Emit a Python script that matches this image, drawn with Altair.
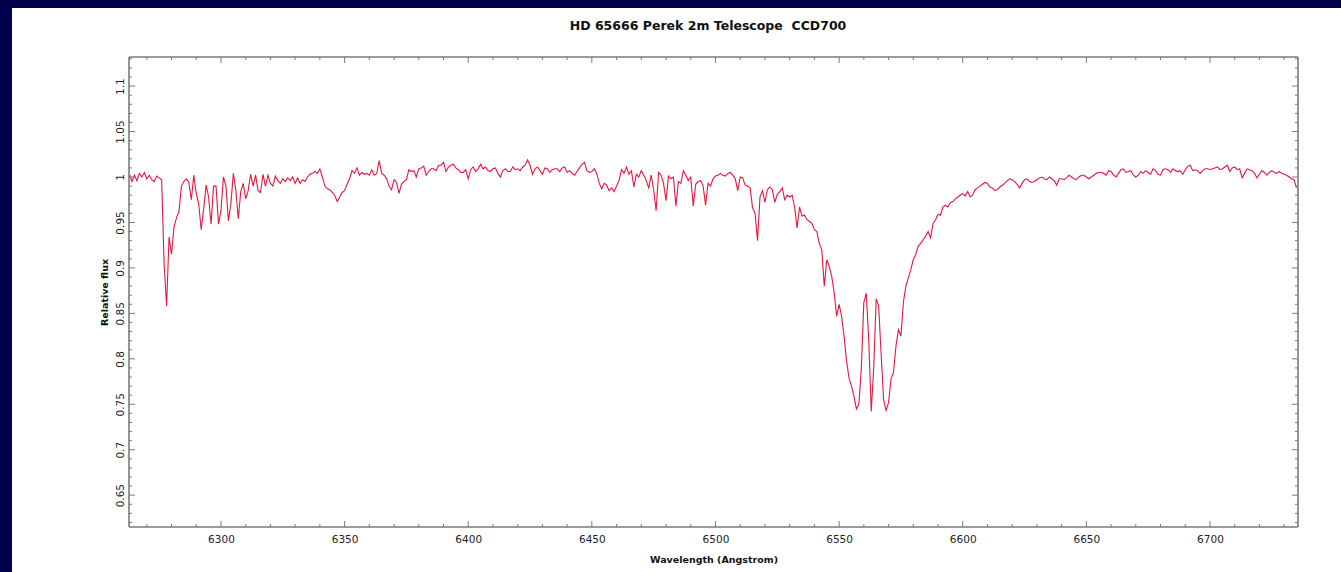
import altair as alt
import pandas as pd

# ---- spectrum: relative flux sampled every 1 Angstrom from 6263 A ----
WAVE_START = 6263
WAVE_STEP = 1
FLUX = [
    1.003, 0.995, 1.002, 0.996, 1.004, 1.000, 1.005, 0.998, 1.002, 0.997,  # 6263
    0.995, 1.001, 0.999, 0.997, 0.905, 0.858, 0.934, 0.915, 0.945, 0.955,  # 6273
    0.962, 0.990, 0.995, 0.998, 0.994, 0.975, 1.002, 0.982, 0.970, 0.942,  # 6283
    0.965, 0.991, 0.978, 0.948, 0.990, 0.990, 0.948, 0.963, 1.000, 0.990,  # 6293
    0.952, 0.970, 1.004, 0.986, 0.954, 0.984, 0.993, 0.976, 0.985, 1.003,  # 6303
    0.990, 1.002, 0.985, 0.983, 1.003, 0.990, 1.002, 0.993, 0.990, 1.001,  # 6313
    0.996, 0.993, 0.998, 0.995, 0.999, 0.996, 1.000, 0.993, 0.999, 0.993,  # 6323
    0.997, 0.995, 1.000, 1.003, 1.004, 1.006, 1.004, 1.009, 1.000, 0.990,  # 6333
    0.987, 0.986, 0.983, 0.980, 0.973, 0.978, 0.983, 0.985, 0.992, 0.998,  # 6343
    1.007, 1.004, 1.010, 1.002, 1.005, 1.003, 1.004, 1.002, 1.008, 1.002,  # 6353
    1.004, 1.018, 1.004, 1.002, 0.998, 0.990, 0.986, 0.997, 0.994, 0.982,  # 6363
    0.992, 0.995, 0.997, 1.008, 1.006, 1.007, 1.000, 1.009, 1.010, 1.012,  # 6373
    1.002, 1.006, 1.009, 1.009, 1.007, 1.013, 1.013, 1.016, 1.006, 1.011,  # 6383
    1.013, 1.014, 1.010, 1.008, 1.005, 1.005, 1.008, 0.998, 1.008, 1.011,  # 6393
    1.006, 1.009, 1.014, 1.009, 1.011, 1.007, 1.006, 1.009, 1.010, 1.004,  # 6403
    1.000, 1.007, 1.009, 1.006, 1.006, 1.011, 1.008, 1.009, 1.007, 1.011,  # 6413
    1.013, 1.019, 1.013, 1.003, 1.009, 1.011, 1.007, 1.003, 1.010, 1.009,  # 6423
    1.005, 1.008, 1.009, 1.009, 1.006, 1.010, 1.011, 1.005, 1.007, 1.004,  # 6433
    1.002, 1.006, 1.010, 1.014, 1.016, 1.007, 1.005, 1.006, 1.009, 1.004,  # 6443
    0.993, 0.987, 0.993, 0.991, 0.985, 0.988, 0.984, 0.990, 0.996, 1.008,  # 6453
    1.004, 1.011, 1.003, 1.007, 0.989, 1.003, 1.000, 1.007, 1.002, 0.996,  # 6463
    0.988, 1.002, 0.986, 0.963, 1.005, 1.002, 0.993, 0.974, 1.001, 0.998,  # 6473
    1.000, 0.968, 0.995, 0.993, 1.007, 1.002, 0.996, 1.000, 0.968, 0.992,  # 6483
    0.995, 0.996, 0.990, 0.969, 0.993, 0.990, 0.998, 1.001, 1.002, 1.004,  # 6493
    1.002, 1.001, 1.004, 1.005, 1.002, 0.998, 0.985, 1.000, 0.999, 0.991,  # 6503
    0.990, 0.988, 0.966, 0.960, 0.930, 0.978, 0.985, 0.972, 0.986, 0.989,  # 6513
    0.986, 0.972, 0.981, 0.984, 0.988, 0.975, 0.980, 0.978, 0.980, 0.967,  # 6523
    0.944, 0.967, 0.957, 0.958, 0.953, 0.951, 0.949, 0.942, 0.940, 0.927,  # 6533
    0.920, 0.880, 0.909, 0.902, 0.891, 0.873, 0.847, 0.860, 0.847, 0.825,  # 6543
    0.798, 0.779, 0.770, 0.759, 0.745, 0.750, 0.790, 0.862, 0.872, 0.820,  # 6553
    0.742, 0.790, 0.866, 0.858, 0.805, 0.755, 0.743, 0.752, 0.778, 0.785,  # 6563
    0.814, 0.832, 0.825, 0.862, 0.880, 0.889, 0.898, 0.909, 0.915, 0.924,  # 6573
    0.927, 0.931, 0.935, 0.940, 0.933, 0.949, 0.953, 0.959, 0.958, 0.967,  # 6583
    0.969, 0.967, 0.972, 0.973, 0.976, 0.978, 0.980, 0.982, 0.979, 0.984,  # 6593
    0.978, 0.980, 0.986, 0.988, 0.990, 0.992, 0.994, 0.993, 0.989, 0.988,  # 6603
    0.985, 0.986, 0.989, 0.991, 0.993, 0.996, 0.998, 0.997, 0.995, 0.992,  # 6613
    0.988, 0.993, 0.997, 0.998, 0.995, 0.994, 0.995, 0.997, 0.999, 1.000,  # 6623
    0.998, 0.997, 1.000, 0.998, 0.996, 0.991, 0.998, 0.998, 0.997, 0.999,  # 6633
    1.002, 1.000, 0.998, 0.997, 1.000, 1.002, 1.002, 1.000, 0.998, 1.000,  # 6643
    1.002, 1.004, 1.005, 1.005, 1.004, 1.002, 1.007, 1.006, 1.002, 1.000,  # 6653
    1.004, 1.008, 1.009, 1.005, 1.006, 1.007, 1.002, 1.000, 1.002, 1.006,  # 6663
    1.004, 1.007, 1.005, 1.003, 1.009, 1.007, 1.003, 1.002, 1.008, 1.009,  # 6673
    1.008, 1.005, 1.009, 1.007, 1.006, 1.007, 1.003, 1.008, 1.012, 1.013,  # 6683
    1.007, 1.008, 1.007, 1.004, 1.007, 1.009, 1.009, 1.008, 1.009, 1.010,  # 6693
    1.011, 1.008, 1.009, 1.011, 1.013, 1.006, 1.010, 1.011, 1.008, 1.009,  # 6703
    0.999, 1.004, 1.009, 1.008, 1.007, 1.004, 0.999, 1.003, 1.007, 1.005,  # 6713
    1.002, 1.005, 1.007, 1.005, 1.004, 1.006, 1.004, 1.003, 1.002, 1.000,  # 6723
    0.998, 0.997, 0.988,                                                   # 6733
]
WAVELENGTH = [WAVE_START + i * WAVE_STEP for i in range(len(FLUX))]

# ---- axis ticks ----
X_MAJOR = [6300, 6350, 6400, 6450, 6500, 6550, 6600, 6650, 6700]
X_MINOR = [6270, 6280, 6290, 6310, 6320, 6330, 6340, 6360, 6370, 6380, 6390,
           6410, 6420, 6430, 6440, 6460, 6470, 6480, 6490, 6510, 6520, 6530,
           6540, 6560, 6570, 6580, 6590, 6610, 6620, 6630, 6640, 6660, 6670,
           6680, 6690, 6710, 6720, 6730]
Y_MAJOR = [0.65, 0.7, 0.75, 0.8, 0.85, 0.9, 0.95, 1.0, 1.05, 1.1]
Y_MINOR = [0.62, 0.63, 0.64, 0.66, 0.67, 0.68, 0.69, 0.71, 0.72, 0.73, 0.74,
           0.76, 0.77, 0.78, 0.79, 0.81, 0.82, 0.83, 0.84, 0.86, 0.87, 0.88,
           0.89, 0.91, 0.92, 0.93, 0.94, 0.96, 0.97, 0.98, 0.99, 1.01, 1.02,
           1.03, 1.04, 1.06, 1.07, 1.08, 1.09, 1.11, 1.12, 1.13]
X_DOMAIN = [6262.8, 6735.6]
Y_DOMAIN = [0.615, 1.132]

# non-breaking space keeps the double gap before the camera name
TITLE = "HD 65666 Perek 2m Telescope \u00a0CCD700"
X_TITLE = "Wavelength (Angstrom)"
Y_TITLE = "Relative flux"

# ---- layout / style ----
PLOT_W, PLOT_H = 1169, 470
PAD_L, PAD_T, PAD_R, PAD_B = 129, 57, 43, 45
FRAME = "#7a7a7a"
LINE = "#e5173f"
NAVY = "#00004c"
FONT = "DejaVu Sans"
MAJOR_LEN, MINOR_LEN = 6, 3

xs = alt.Scale(domain=X_DOMAIN, nice=False, zero=False)
ys = alt.Scale(domain=Y_DOMAIN, nice=False, zero=False)

spec = pd.DataFrame({"wavelength": WAVELENGTH, "flux": FLUX})
one = pd.DataFrame({"k": [0]})

# white page panel behind the plot
panel = alt.Chart(one).mark_rect(color="white").encode(
    x=alt.value(12 - PAD_L), x2=alt.value(1341 - PAD_L),
    y=alt.value(8 - PAD_T), y2=alt.value(572 - PAD_T),
)

# chart heading, centred over the plot
heading = alt.Chart(one).mark_text(
    text=TITLE, font=FONT, fontSize=12.5, fontWeight="bold", color="#111111",
    align="center", baseline="middle",
).encode(x=alt.value(708 - PAD_L), y=alt.value(26 - PAD_T))

spectrum = alt.Chart(spec).mark_line(color=LINE, strokeWidth=1.1).encode(
    x=alt.X("wavelength:Q", scale=xs,
            axis=alt.Axis(values=X_MAJOR, format="d", title=X_TITLE, ticks=False,
                          domain=False, grid=False, labelFont=FONT, labelFontSize=10.5,
                          labelColor="#222222", labelPadding=7, titleFont=FONT,
                          titleFontSize=9.5, titleFontWeight="bold", titleColor="#111111",
                          titlePadding=10, zindex=1)),
    y=alt.Y("flux:Q", scale=ys,
            axis=alt.Axis(values=Y_MAJOR, format=".2~f", title=Y_TITLE, ticks=False,
                          domain=False, grid=False, labelAngle=270, labelAlign="center",
                          labelBaseline="bottom", labelFont=FONT, labelFontSize=10.5,
                          labelColor="#222222", labelPadding=4, titleFont=FONT,
                          titleFontSize=9.5, titleFontWeight="bold", titleColor="#111111",
                          titlePadding=6, zindex=1)),
)


def x_ticks(values, length):
    df = pd.DataFrame({"wavelength": values})
    base = alt.Chart(df).mark_rule(color=FRAME, strokeWidth=1)
    bottom = base.encode(x=alt.X("wavelength:Q", scale=xs),
                         y=alt.value(PLOT_H), y2=alt.value(PLOT_H - length))
    top = base.encode(x=alt.X("wavelength:Q", scale=xs),
                      y=alt.value(0), y2=alt.value(length))
    return [bottom, top]


def y_ticks(values, length):
    df = pd.DataFrame({"flux": values})
    base = alt.Chart(df).mark_rule(color=FRAME, strokeWidth=1)
    left = base.encode(y=alt.Y("flux:Q", scale=ys),
                       x=alt.value(0), x2=alt.value(length))
    right = base.encode(y=alt.Y("flux:Q", scale=ys),
                        x=alt.value(PLOT_W), x2=alt.value(PLOT_W - length))
    return [left, right]


frame_base = alt.Chart(one).mark_rule(color=FRAME, strokeWidth=1.6)
frame = [
    frame_base.encode(x=alt.value(0), x2=alt.value(PLOT_W), y=alt.value(0)),
    frame_base.encode(x=alt.value(0), x2=alt.value(PLOT_W), y=alt.value(PLOT_H)),
    frame_base.encode(x=alt.value(0), y=alt.value(0), y2=alt.value(PLOT_H)),
    frame_base.encode(x=alt.value(PLOT_W), y=alt.value(0), y2=alt.value(PLOT_H)),
]

layers = ([panel, heading, spectrum]
          + x_ticks(X_MAJOR, MAJOR_LEN) + x_ticks(X_MINOR, MINOR_LEN)
          + y_ticks(Y_MAJOR, MAJOR_LEN) + y_ticks(Y_MINOR, MINOR_LEN)
          + frame)

chart = alt.layer(*layers).properties(
    width=PLOT_W,
    height=PLOT_H,
    autosize=alt.AutoSizeParams(type="none"),
    padding={"left": PAD_L, "top": PAD_T, "right": PAD_R, "bottom": PAD_B},
    background=NAVY,
).configure_view(stroke="transparent", fill="white")

chart.save("out.html", embed_options={"renderer": "svg", "actions": False})
